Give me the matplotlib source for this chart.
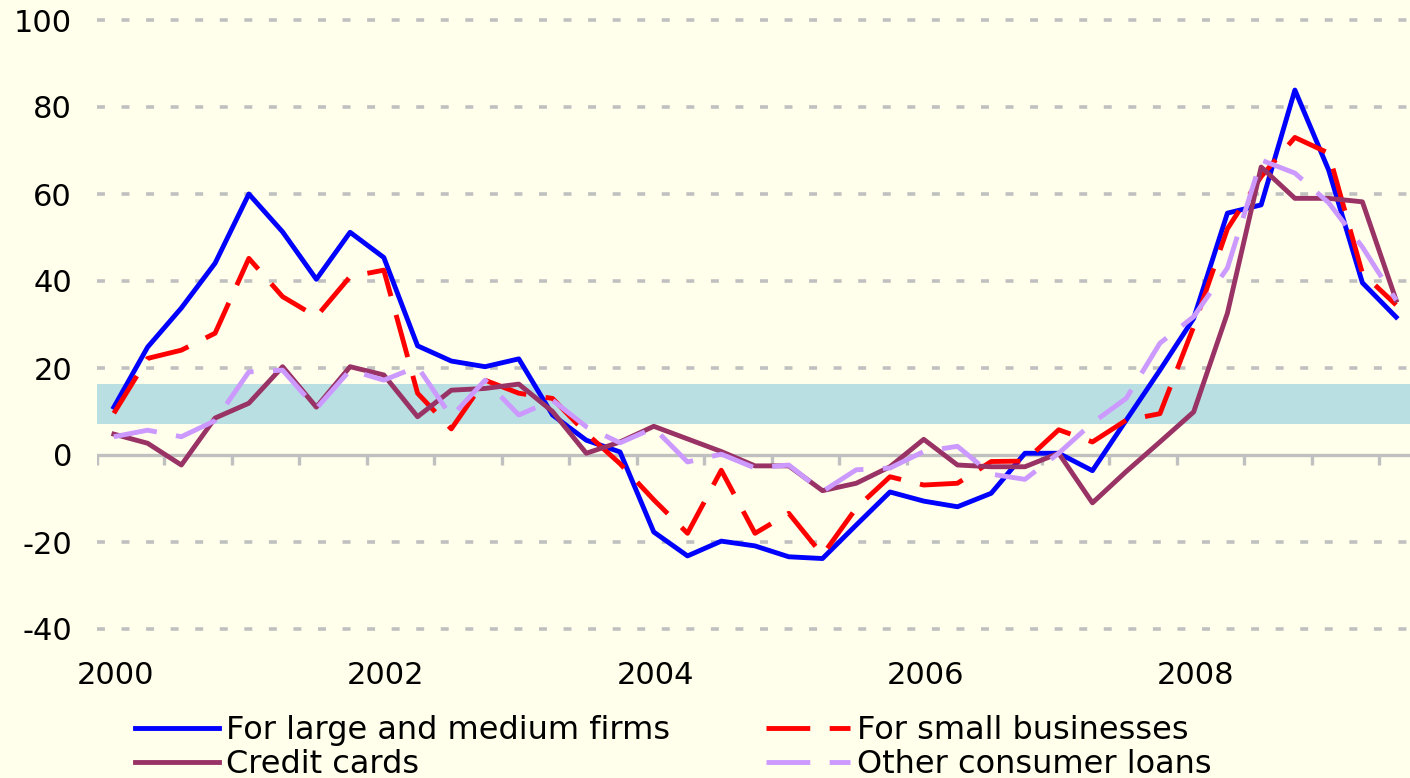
import numpy as np
import matplotlib.pyplot as plt

plt.rcParams['axes.unicode_minus'] = False

# quarterly net percentage, 2000Q1 .. 2009Q3
years = ["2000", "2002", "2004", "2006", "2008"]
large_firms = [11.0, 24.8, 33.8, 44.1, 60.0, 51.3, 40.4, 51.2, 45.4, 25.1,
               21.6, 20.3, 22.1, 9.2, 3.4, 0.7, -17.7, -23.2, -19.8, -20.9,
               -23.4, -23.8, -16.1, -8.5, -10.6, -11.9, -8.8, 0.4, 0.4, -3.6,
               8.0, 19.5, 31.4, 55.6, 57.5, 83.9, 65.5, 39.6, 31.7]
small_biz = [9.6, 22.2, 24.1, 28.0, 45.2, 36.4, 31.8, 41.0, 42.5, 14.2,
             6.0, 17.2, 14.2, 13.0, 5.0, -2.0, -10.3, -18.0, -3.5, -18.0,
             -13.4, -23.0, -12.2, -5.0, -6.9, -6.5, -1.5, -1.4, 5.8, 3.0,
             8.0, 9.5, 29.5, 52.0, 64.0, 73.0, 69.4, 41.8, 34.5]
credit_cards = [4.8, 2.7, -2.3, 8.5, 11.9, 20.3, 11.0, 20.3, 18.4, 8.8,
                14.9, 15.3, 16.3, 10.0, 0.4, 3.0, 6.6, 3.7, 0.8, -2.5,
                -2.5, -8.2, -6.5, -2.7, 3.6, -2.3, -2.7, -2.7, 0.4, -11.0,
                -3.8, 3.0, 9.9, 32.6, 66.2, 59.0, 59.0, 58.2, 35.6]
other_consumer = [4.2, 5.7, 4.2, 7.9, 19.1, 19.5, 10.7, 19.5, 17.2, 20.3,
                  8.8, 17.2, 9.2, 12.6, 6.5, 2.8, 6.2, -1.6, 0.2, -3.0,
                  -2.3, -8.4, -3.4, -3.0, 0.8, 2.0, -4.4, -5.6, 0.4, 7.4,
                  13.0, 25.7, 31.8, 43.0, 67.8, 64.8, 58.0, 47.8, 35.6]
band_low, band_high = 7.1, 16.3

bg = '#FFFFEB'
grid_col = '#C0C0C0'

fig = plt.figure(figsize=(14.1, 7.78), dpi=100, facecolor=bg)
ax = fig.add_axes([97 / 1410, (778 - 629) / 778, 1316 / 1410, 609 / 778])
ax.set_facecolor(bg)

n = len(large_firms)
x = np.arange(n)
ax.set_xlim(-0.5, n - 0.5)
ax.set_ylim(-40, 100)

# shaded band
ax.axhspan(band_low, band_high, color='#B9DFE3', zorder=1, lw=0)

# dashed gridlines + solid zero axis
for yv in [-40, -20, 20, 40, 60, 80, 100]:
    ax.axhline(yv, color=grid_col, lw=2.6, linestyle=(0, (2.2, 4.6)), zorder=0.5, clip_on=False)
ax.axhline(0, color=grid_col, lw=2.4, zorder=1.5)

lw = 3.5
dash = (0, (9, 4))
l1, = ax.plot(x, large_firms, color='#0000FF', lw=lw, label='For large and medium firms', zorder=3)
l2, = ax.plot(x, small_biz, color='#FF0000', lw=lw, linestyle=dash, label='For small businesses', zorder=3)
l3, = ax.plot(x, credit_cards, color='#993366', lw=lw, label='Credit cards', zorder=3)
l4, = ax.plot(x, other_consumer, color='#CC99FF', lw=lw, linestyle=dash, label='Other consumer loans', zorder=3)

for s in ax.spines.values():
    s.set_visible(False)

# y ticks
ax.set_yticks(np.arange(-40, 101, 20))
ax.tick_params(axis='y', length=0, pad=18, labelsize=22)

# x: tick marks on the zero line every 2 quarters, year labels below
ax.set_xticks([])
for t in np.arange(-0.5, n, 2):
    ax.plot([t, t], [0, -2.3], color=grid_col, lw=2.4, zorder=1.5, solid_capstyle='butt')
for i, yr in enumerate(years):
    ax.text(i * 8 + 0.05, -50.6, yr, ha='center', va='center', fontsize=22, clip_on=False)

fig.legend(handles=[l1, l3, l2, l4], ncol=2, frameon=False, fontsize=23,
           loc='upper left', bbox_to_anchor=(135 / 1410, 1 - 715 / 778),
           borderpad=0, borderaxespad=0, handlelength=2.63, handletextpad=0.22,
           columnspacing=3.0, labelspacing=0.1)

fig.savefig('out.png', dpi=100, facecolor=bg)
